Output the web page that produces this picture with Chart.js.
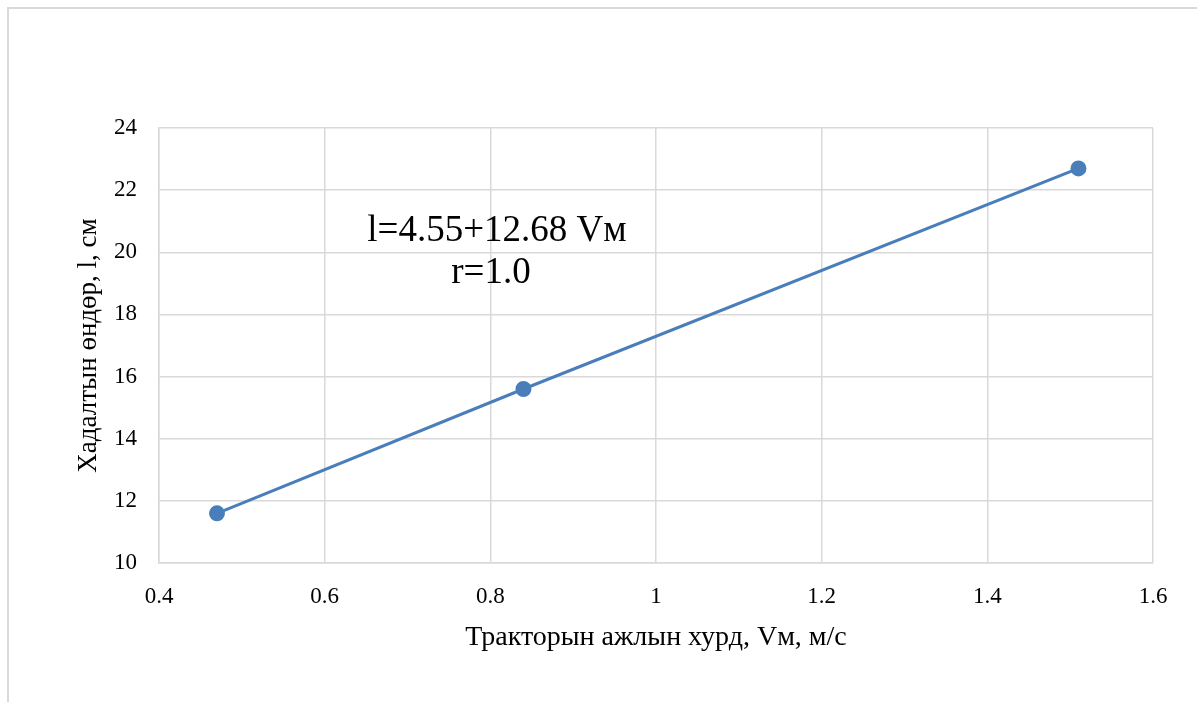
<!DOCTYPE html>
<html>
<head>
<meta charset="utf-8">
<script src="https://cdn.jsdelivr.net/npm/chart.js@4.4.1/dist/chart.umd.min.js"></script>
<style>
  html, body { margin: 0; padding: 0; background: #fff; }
  #wrap { position: relative; width: 1197px; height: 702px; }
</style>
</head>
<body>
<div id="wrap"><canvas id="lenChart" width="1197" height="702"></canvas></div>
<script>
// data
var speed = [0.47, 0.84, 1.51];      // Vм, м/с
var cutHeight = [11.6, 15.6, 22.7];  // l, см
var xTicks = [0.4, 0.6, 0.8, 1, 1.2, 1.4, 1.6];
var yTicks = [10, 12, 14, 16, 18, 20, 22, 24];
var fitLines = ['l=4.55+12.68 Vм', 'r=1.0'];

var serif = "'Liberation Serif', 'DejaVu Serif', serif";
var gridGray = '#d9d9d9';
var blue = '#4a7ebb';

// outer frame + regression note
var extras = {
    id: 'extras',
    beforeDraw: function(chart) {
        var c = chart.ctx;
        c.save();
        c.strokeStyle = gridGray;
        c.lineWidth = 2;
        c.beginPath();
        c.moveTo(8, 702);
        c.lineTo(8, 8);
        c.lineTo(1197, 8);
        c.stroke();
        c.restore();
    },
    afterDatasetsDraw: function(chart) {
        var c = chart.ctx;
        var a = chart.chartArea;
        var cx = a.left + (a.right - a.left) * 0.34;
        c.save();
        c.fillStyle = '#000';
        c.textAlign = 'center';
        c.textBaseline = 'middle';
        c.font = '37px ' + serif;
        c.fillText(fitLines[0], cx, a.top + 103);
        c.fillText(fitLines[1], cx - 6, a.top + 145);
        c.restore();
    }
};

function plain(v) { return String(Number(v.toFixed(2))); }

var ctx = document.getElementById('lenChart').getContext('2d');
var lenChart = new Chart(ctx, {
    type: 'scatter',
    data: {
        datasets: [{
            data: speed.map(function(v, i) { return { x: v, y: cutHeight[i] }; }),
            showLine: true,
            borderColor: blue,
            backgroundColor: blue,
            borderWidth: 3,
            pointRadius: 6.5,
            pointHoverRadius: 6.5
        }]
    },
    options: {
        responsive: false,
        animation: false,
        layout: { padding: { left: 70, right: 44, top: 128, bottom: 39 } },
        plugins: {
            legend: { display: false },
            tooltip: { enabled: false }
        },
        scales: {
            x: {
                type: 'linear',
                min: 0.4,
                max: 1.6,
                afterBuildTicks: function(s) { s.ticks = xTicks.map(function(v) { return { value: v }; }); },
                afterFit: function(s) { s.height = 100; },
                grid: { color: gridGray, lineWidth: 1.5, drawTicks: false },
                border: { color: gridGray, width: 1.5 },
                ticks: { color: '#000', padding: 20, font: { family: serif, size: 23 }, callback: plain },
                title: {
                    display: true,
                    text: 'Тракторын ажлын хурд, Vм, м/с',
                    color: '#000',
                    font: { family: serif, size: 28 },
                    padding: { top: 0, bottom: 9 }
                }
            },
            y: {
                type: 'linear',
                min: 10,
                max: 24,
                afterBuildTicks: function(s) { s.ticks = yTicks.map(function(v) { return { value: v }; }); },
                afterFit: function(s) { s.width = 89; },
                grid: { color: gridGray, lineWidth: 1.5, drawTicks: false },
                border: { color: gridGray, width: 1.5 },
                ticks: { color: '#000', padding: 22, font: { family: serif, size: 23 }, callback: plain },
                title: {
                    display: true,
                    text: 'Хадалтын өндөр, l, см',
                    color: '#000',
                    font: { family: serif, size: 27 },
                    padding: { top: 3, bottom: 0 }
                }
            }
        }
    },
    plugins: [extras]
});
</script>
</body>
</html>
